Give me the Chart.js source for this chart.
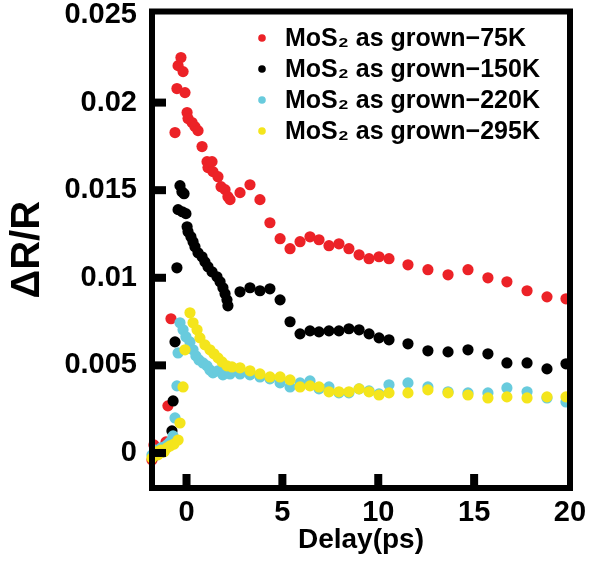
<!DOCTYPE html>
<html>
<head>
<meta charset="utf-8">
<script src="https://cdn.jsdelivr.net/npm/chart.js@4/dist/chart.umd.min.js"></script>
<style>
  html, body { margin: 0; padding: 0; background: #ffffff; }
  canvas { display: block; }
</style>
</head>
<body>
<canvas id="chart" width="593" height="561"></canvas>
<script>
// Transient reflectivity of as-grown MoS2 at four temperatures.
const seriesLabels = [
  'MoS\u2082 as grown\u221275K',
  'MoS\u2082 as grown\u2212150K',
  'MoS\u2082 as grown\u2212220K',
  'MoS\u2082 as grown\u2212295K'
];
const seriesColors = ['#ec2227', '#000000', '#68cbdd', '#f4e51c'];

// 75 K
const delay75 = [-1.80, -1.70, -1.49, -1.28, -1.07, -0.97, -0.81, -0.60, -0.50, -0.44,
  -0.29, -0.18, -0.08, 0.03, 0.08, 0.29, 0.44, 0.60, 0.81, 1.07,
  1.12, 1.33, 1.38, 1.64, 1.80, 2.01, 2.16, 2.27, 2.79, 3.31,
  3.83, 4.35, 4.88, 5.40, 5.92, 6.44, 6.91, 7.43, 7.95, 8.47,
  9.00, 9.52, 10.04, 10.56, 11.55, 12.59, 13.64, 14.68, 15.72, 16.71,
  17.76, 18.80, 19.79];
const dr75 = [-0.00040, 0.00046, 0.00017, 0.00029, 0.00063, 0.00269, 0.00766, 0.01829, 0.02080, 0.02211,
  0.02257, 0.02177, 0.02057, 0.01943, 0.01909, 0.01886, 0.01863, 0.01840, 0.01749, 0.01663,
  0.01629, 0.01663, 0.01606, 0.01577, 0.01520, 0.01503, 0.01463, 0.01446, 0.01486, 0.01531,
  0.01446, 0.01314, 0.01223, 0.01166, 0.01206, 0.01234, 0.01217, 0.01183, 0.01194, 0.01166,
  0.01131, 0.01109, 0.01120, 0.01109, 0.01074, 0.01046, 0.01017, 0.01046, 0.01000, 0.00977,
  0.00926, 0.00891, 0.00880];

// 150 K
const delay150 = [-1.75, -1.49, -1.23, -0.97, -0.76, -0.70, -0.60, -0.50, -0.44, -0.34,
  -0.24, -0.22, -0.13, -0.03, 0.03, 0.08, 0.23, 0.34, 0.44, 0.60,
  0.81, 0.96, 1.12, 1.33, 1.59, 1.75, 1.90, 2.01, 2.11, 2.16,
  2.79, 3.31, 3.83, 4.35, 4.88, 5.40, 5.92, 6.44, 6.91, 7.43,
  7.95, 8.47, 9.00, 9.52, 10.04, 10.56, 11.55, 12.59, 13.64, 14.68,
  15.72, 16.71, 17.76, 18.80, 19.79];
const dr150 = [-0.00023, 0.00000, 0.00006, 0.00040, 0.00126, 0.00297, 0.00634, 0.01057, 0.01389, 0.01526,
  0.01491, 0.01377, 0.01480, 0.01366, 0.01291, 0.01263, 0.01234, 0.01206, 0.01177, 0.01143,
  0.01120, 0.01091, 0.01063, 0.01034, 0.01006, 0.00977, 0.00943, 0.00909, 0.00874, 0.00840,
  0.00920, 0.00943, 0.00926, 0.00937, 0.00874, 0.00749, 0.00680, 0.00697, 0.00691, 0.00697,
  0.00697, 0.00709, 0.00703, 0.00680, 0.00657, 0.00646, 0.00623, 0.00583, 0.00577, 0.00589,
  0.00566, 0.00514, 0.00514, 0.00480, 0.00509];

// 220 K
const delay220 = [-1.80, -1.64, -1.49, -1.33, -1.17, -1.02, -0.86, -0.70, -0.60, -0.50,
  -0.44, -0.34, -0.18, -0.03, 0.18, 0.34, 0.49, 0.65, 0.86, 1.07,
  1.22, 1.38, 1.64, 1.90, 2.27, 2.79, 3.31, 3.83, 4.35, 4.88,
  5.40, 5.92, 6.44, 6.91, 7.43, 7.95, 8.47, 9.00, 9.52, 10.04,
  10.56, 11.55, 12.59, 13.64, 14.68, 15.72, 16.71, 17.76, 18.80, 19.79];
const dr220 = [-0.00011, 0.00017, 0.00006, 0.00029, 0.00034, 0.00046, 0.00063, 0.00097, 0.00200, 0.00383,
  0.00571, 0.00743, 0.00703, 0.00663, 0.00634, 0.00589, 0.00554, 0.00531, 0.00514, 0.00497,
  0.00474, 0.00457, 0.00469, 0.00446, 0.00451, 0.00451, 0.00446, 0.00434, 0.00423, 0.00400,
  0.00377, 0.00400, 0.00411, 0.00366, 0.00377, 0.00343, 0.00343, 0.00366, 0.00354, 0.00337,
  0.00389, 0.00400, 0.00377, 0.00349, 0.00343, 0.00343, 0.00371, 0.00349, 0.00314, 0.00291];

// 295 K
const delay295 = [-1.80, -1.64, -1.49, -1.33, -1.17, -1.02, -0.86, -0.65, -0.44, -0.34,
  -0.18, -0.08, 0.18, 0.34, 0.55, 0.70, 0.96, 1.22, 1.43, 1.64,
  1.85, 2.11, 2.37, 2.79, 3.31, 3.83, 4.35, 4.88, 5.40, 5.92,
  6.44, 6.91, 7.43, 7.95, 8.47, 9.00, 9.52, 10.04, 10.56, 11.55,
  12.59, 13.64, 14.68, 15.72, 16.71, 17.76, 18.80, 19.79];
const dr295 = [-0.00029, 0.00006, -0.00011, 0.00017, 0.00006, 0.00029, 0.00040, 0.00051, 0.00074, 0.00171,
  0.00377, 0.00589, 0.00800, 0.00743, 0.00703, 0.00657, 0.00617, 0.00589, 0.00566, 0.00543,
  0.00520, 0.00497, 0.00491, 0.00486, 0.00469, 0.00451, 0.00434, 0.00434, 0.00417, 0.00377,
  0.00383, 0.00377, 0.00349, 0.00349, 0.00349, 0.00366, 0.00349, 0.00331, 0.00343, 0.00343,
  0.00360, 0.00343, 0.00331, 0.00314, 0.00320, 0.00314, 0.00320, 0.00320];

const xTickValues = [0, 5, 10, 15, 20];
const xTickLabels = ['0', '5', '10', '15', '20'];
const yTickValues = [0, 0.005, 0.01, 0.015, 0.02, 0.025];
const yTickLabels = ['0', '0.005', '0.01', '0.015', '0.02', '0.025'];

const FONT = '"Liberation Sans", Arial, Helvetica, sans-serif';

function points(xs, ys) {
  return xs.map((x, i) => ({ x: x, y: ys[i] }));
}

const seriesData = [
  points(delay75, dr75),
  points(delay150, dr150),
  points(delay220, dr220),
  points(delay295, dr295)
];

// Thick box around the plot with inward tick marks on the bottom and left sides.
const framePlugin = {
  id: 'frame',
  afterDatasetsDraw(chart) {
    const { ctx, chartArea: a, scales } = chart;
    ctx.save();
    ctx.strokeStyle = '#000';
    ctx.lineWidth = 6;
    ctx.lineJoin = 'miter';
    ctx.strokeRect(a.left, a.top, a.right - a.left, a.bottom - a.top);
    ctx.fillStyle = '#000';
    scales.x.ticks.forEach(t => {
      const px = scales.x.getPixelForValue(t.value);
      if (px > a.left + 8 && px < a.right - 8) ctx.fillRect(px - 4, a.bottom - 14, 8, 14);
    });
    scales.y.ticks.forEach(t => {
      const py = scales.y.getPixelForValue(t.value);
      if (py > a.top + 8 && py < a.bottom - 8) ctx.fillRect(a.left, py - 4, 14, 8);
    });
    ctx.restore();
  }
};

// Legend drawn inside the plot, upper right.
const insideLegend = {
  id: 'insideLegend',
  afterDraw(chart) {
    const { ctx, chartArea: a } = chart;
    ctx.save();
    ctx.font = 'bold 25px ' + FONT;
    ctx.textBaseline = 'middle';
    ctx.textAlign = 'left';
    chart.data.datasets.forEach((ds, i) => {
      const yy = a.top + 26.5 + i * 31;
      ctx.fillStyle = ds.backgroundColor;
      ctx.beginPath();
      ctx.arc(a.left + 110, yy, 3.8, 0, Math.PI * 2);
      ctx.fill();
      ctx.fillStyle = '#000';
      ctx.fillText(ds.label, a.left + 133, yy + 1);
    });
    ctx.restore();
  }
};

new Chart(document.getElementById('chart'), {
  type: 'scatter',
  data: {
    datasets: seriesLabels.map((label, i) => ({
      label: label,
      data: seriesData[i],
      backgroundColor: seriesColors[i],
      borderColor: seriesColors[i],
      borderWidth: 0,
      pointRadius: 5.6,
      pointHoverRadius: 5.6,
      showLine: false,
      clip: false,
      order: 4 - i
    }))
  },
  options: {
    responsive: false,
    animation: false,
    events: [],
    layout: { padding: { top: 11.5, right: 23, bottom: 0, left: 0 } },
    plugins: {
      legend: { display: false },
      tooltip: { enabled: false }
    },
    scales: {
      x: {
        type: 'linear',
        min: -1.8,
        max: 20,
        grid: { display: false, drawTicks: false },
        border: { display: false },
        afterBuildTicks: s => { s.ticks = xTickValues.map(v => ({ value: v })); },
        afterFit: s => { s.height = 73; s.paddingLeft = 0; s.paddingRight = 0; },
        ticks: {
          autoSkip: false,
          maxRotation: 0,
          padding: 8,
          color: '#000',
          font: { family: FONT, size: 29, weight: 'bold' },
          callback: (v, i) => xTickLabels[i]
        },
        title: {
          display: true,
          text: 'Delay(ps)',
          color: '#000',
          font: { family: FONT, size: 28, weight: 'bold' },
          padding: { top: 0, bottom: 4 }
        }
      },
      y: {
        type: 'linear',
        min: -0.002,
        max: 0.0252,
        grid: { display: false, drawTicks: false },
        border: { display: false },
        afterBuildTicks: s => { s.ticks = yTickValues.map(v => ({ value: v })); },
        afterFit: s => { s.width = 152; s.paddingTop = 0; s.paddingBottom = 0; },
        ticks: {
          autoSkip: false,
          padding: 15,
          color: '#000',
          font: { family: FONT, size: 29, weight: 'bold' },
          callback: (v, i) => yTickLabels[i]
        },
        title: {
          display: true,
          text: '\u0394R/R',
          color: '#000',
          font: { family: FONT, size: 40, weight: 'bold' },
          padding: { top: 4, bottom: 0 }
        }
      }
    }
  },
  plugins: [framePlugin, insideLegend]
});
</script>
</body>
</html>
